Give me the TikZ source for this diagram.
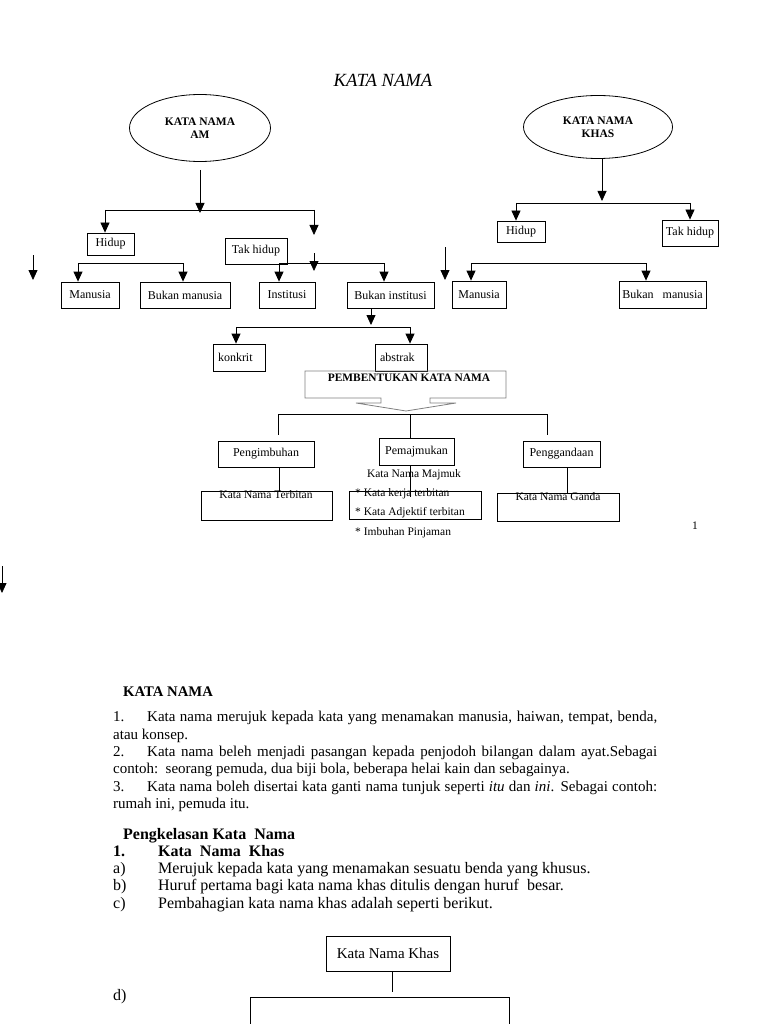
\documentclass[tikz,border=0pt]{standalone}
\usepackage{fontspec}
\setmainfont{Liberation Serif}
\usetikzlibrary{arrows.meta,shapes.geometric}

\begin{document}
\begin{tikzpicture}[x=1pt,y=-1pt,
    box/.style={draw, line width=0.8pt, minimum height=26pt, inner sep=1pt, font=\fontsize{12}{13}\selectfont},
    lbox/.style={box, align=left, inner xsep=5pt},
    elip/.style={draw, ellipse, line width=0.8pt, inner sep=0pt, align=center, font=\bfseries\fontsize{11.5}{13}\selectfont},
    arr/.style={-{Triangle[width=9pt,length=10pt]}, line width=0.8pt},
    lin/.style={line width=0.8pt},
    lbl/.style={inner sep=0pt, font=\fontsize{11.5}{19.5}\selectfont},
    txt/.style={inner sep=0pt, anchor=north west, font=\fontsize{15}{17.4}\selectfont}]

    \useasboundingbox (0,0) rectangle (768,1024);

    % Dibuja el titulo y las elipses
    \node[font=\itshape\fontsize{18.6}{20}\selectfont] (titulo) at (383,80) {KATA NAMA};
    \node[elip, minimum width=141pt, minimum height=67pt] (am) at (200,128) {KATA NAMA\\AM};
    \node[elip, minimum width=149pt, minimum height=63pt] (khas) at (598,127) {KATA NAMA\\KHAS};

    % Dibuja las cajas del arbol izquierdo
    \node[box, minimum width=47pt, minimum height=22pt] (hidupA) at (110.5,244) {Hidup};
    \node[box, minimum width=62pt] (takhidupA) at (256,251) {Tak hidup};
    \node[box, minimum width=58pt] (manusiaA) at (90,295) {Manusia};
    \node[box, minimum width=90pt] (bukanmanusiaA) at (185,295) {Bukan manusia};
    \node[box, minimum width=56pt] (institusi) at (287,295) {Institusi};
    \node[box, minimum width=87pt] (bukaninstitusi) at (390.5,295) {Bukan institusi};
    \node[lbox, text width=42pt, minimum height=27pt] (konkrit) at (239,357.5) {konkrit};
    \node[lbox, text width=42pt, minimum height=27pt] (abstrak) at (401,357.5) {abstrak};

    % Dibuja las cajas del arbol derecho
    \node[box, minimum width=48pt, minimum height=21pt] (hidupB) at (521,231.5) {Hidup};
    \node[box, minimum width=56pt] (takhidupB) at (690,233) {Tak hidup};
    \node[box, minimum width=54pt, minimum height=27pt] (manusiaB) at (479,294.5) {Manusia};
    \node[box, minimum width=87pt, minimum height=27pt] (bukanmanusiaB) at (662.5,294.5) {Bukan\ \ \ manusia};

    % Dibuja las flechas del arbol izquierdo
    \coordinate (amjoin) at (200,213);
    \coordinate (ambusL) at (105,210);
    \coordinate (ambusR) at (314,210);
    \coordinate (takjoin) at (314,235);
    \draw[arr] ([yshift=-8pt]am.south) -- (amjoin);
    \draw[lin] (ambusL) -- (ambusR);
    \draw[arr] (ambusL) -- (ambusL |- hidupA.north);
    \draw[arr] (ambusR) -- (takjoin);

    \draw[lin] (78,263) -- (183,263);
    \draw[lin] (279,263) -- (384,263);
    \draw[lin] (471,263) -- (646,263);
    \foreach \x/\n in {78/manusiaA,183/bukanmanusiaA,279/institusi,384/bukaninstitusi,471/manusiaB,646/bukanmanusiaB}
    \draw[arr] (\x,263) -- (\n.north -| \x,0);

    \coordinate (bijoin) at (371,325);
    \draw[arr] (bukaninstitusi.south -| bijoin) -- (bijoin);
    \draw[lin] (236,327) -- (410,327);
    \foreach \x/\n in {236/konkrit,410/abstrak}
    \draw[arr] (\x,327) -- (\n.north -| \x,0);

    % Dibuja las flechas sueltas
    \coordinate (s1a) at (33,255);   \coordinate (s1b) at (33,280);
    \coordinate (s2a) at (314,253);  \coordinate (s2b) at (314,271);
    \coordinate (s3a) at (445,247);  \coordinate (s3b) at (445,280);
    \coordinate (s4a) at (2,566);    \coordinate (s4b) at (2,593);
    \foreach \i in {1,2,3,4}
    \draw[arr] (s\i a) -- (s\i b);

    % Dibuja las flechas del arbol derecho
    \coordinate (khasjoin) at (602,201);
    \draw[arr] (khas.south -| khasjoin) -- (khasjoin);
    \draw[lin] (516,203) -- (690,203);
    \draw[arr] (516,203) -- (hidupB.north -| 516,0);
    \draw[arr] (690,203) -- (takhidupB.north -| 690,0);

    % Dibuja la caja de pembentukan
    \draw[gray, line width=0.8pt] (305,371) -- (506,371) -- (506,398) -- (430,398) -- (430,403) -- (456,403)
        -- (406,411) -- (356,403) -- (381,403) -- (381,398) -- (305,398) -- cycle;
    \node[inner sep=0pt, font=\bfseries\fontsize{11.4}{13}\selectfont] (pemb) at (409,378) {PEMBENTUKAN KATA NAMA};

    \node[box, minimum width=96pt] (pengimbuhan) at (266,454) {Pengimbuhan};
    \node[box, minimum width=75pt, minimum height=27pt] (pemajmukan) at (416.5,451.5) {Pemajmukan};
    \node[box, minimum width=77pt] (penggandaan) at (561.5,454) {Penggandaan};
    \node[box, minimum width=131pt, minimum height=29pt] (terbitan) at (266.5,505.5) {};
    \node[box, minimum width=132pt, minimum height=28pt] (majmuk) at (415,505) {};
    \node[box, minimum width=122pt, minimum height=28pt] (ganda) at (558,507) {};

    \draw[lin] (278,414) -- (547,414);
    \draw[lin] (278,414) -- (278,435);
    \draw[lin] (410,414) -- (pemajmukan.north -| 410,0);
    \draw[lin] (547,414) -- (547,435);

    \coordinate (majmukend) at (410,497);
    \draw[lin] (pengimbuhan.south -| 279,0) -- (terbitan.north -| 279,0);
    \draw[lin] (pemajmukan.south -| majmukend) -- (majmukend);
    \draw[lin] (penggandaan.south -| 567,0) -- (ganda.north -| 567,0);

    \node[lbl] (lterbitan) at (266,494.5) {Kata Nama Terbitan};
    \node[lbl] (lganda) at (558,496.5) {Kata Nama Ganda};
    \node[lbl] (lmajmuk) at (414,474.5) {Kata Nama Majmuk};
    \node[lbl, anchor=north west, align=left] (lbutir) at (355,488) {* Kata kerja terbitan\\* Kata Adjektif terbitan\\* Imbuhan Pinjaman};
    \node[lbl] (muka) at (695,526) {1};

    % Dibuja el texto de abajo
    \node[anchor=west, inner sep=0pt, font=\bfseries\fontsize{14.7}{16}\selectfont] (judul) at (123,692) {KATA NAMA};
    \node[txt, text width=544pt, align=justify] (huraian) at (113,711) {\setlength{\parindent}{0pt}%
        \makebox[34pt][l]{1.}Kata nama merujuk kepada kata yang menamakan manusia, haiwan, tempat, benda,\linebreak atau konsep.\par
        \makebox[34pt][l]{2.}Kata nama beleh menjadi pasangan kepada penjodoh bilangan dalam ayat.Sebagai\linebreak contoh:\ \ seorang pemuda, dua biji bola, beberapa helai kain dan sebagainya.\par
        \makebox[34pt][l]{3.}Kata nama boleh disertai kata ganti nama tunjuk seperti \textit{itu} dan \textit{ini}. Sebagai contoh:\linebreak rumah ini, pemuda itu.};

    \node[txt, align=left, font=\fontsize{16}{17.2}\selectfont] (kelas) at (113,828) {%
        \hspace*{10pt}\textbf{Pengkelasan Kata\ \ Nama}\\
        \textbf{\makebox[45pt][l]{1.}Kata\ \ Nama\ \ Khas}\\
        \makebox[45pt][l]{a)}Merujuk kepada kata yang menamakan sesuatu benda yang khusus.\\
        \makebox[45pt][l]{b)}Huruf pertama bagi kata nama khas ditulis dengan huruf\ \ besar.\\
        \makebox[45pt][l]{c)}Pembahagian kata nama khas adalah seperti berikut.};
    \node[anchor=west, inner sep=0pt, font=\fontsize{16}{17}\selectfont] (butird) at (113,997) {d)};

    % Dibuja la caja de kata nama khas
    \node[box, minimum width=124pt, minimum height=35pt, font=\fontsize{15}{16}\selectfont] (knkhas) at (388,953.5) {Kata Nama Khas};
    \node[draw, line width=0.8pt, minimum width=259pt, minimum height=60pt, anchor=north west] (bawah) at (250,997) {};
    \coordinate (bawahjoin) at (392,992);
    \draw[lin] (knkhas.south -| bawahjoin) -- (bawahjoin);
\end{tikzpicture}
\end{document}
